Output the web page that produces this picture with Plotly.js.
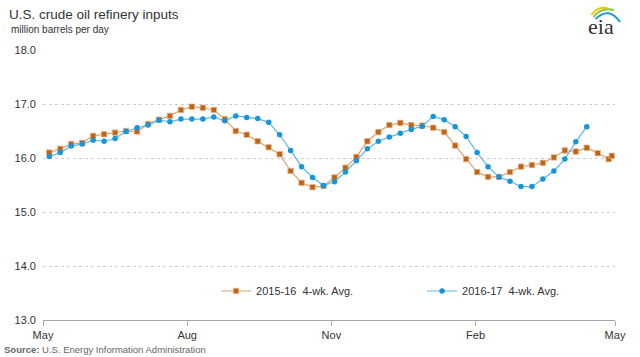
<!DOCTYPE html>
<html>
<head>
<meta charset="utf-8">
<script src="https://cdn.plot.ly/plotly-3.0.1.min.js"></script>
<style>html,body{margin:0;padding:0;background:#fff;}#chart{width:640px;height:357px;}</style>
</head>
<body>
<div id="chart"></div>
<script>
const weeks = ["2016-05-05","2016-05-12","2016-05-19","2016-05-26","2016-06-02","2016-06-09","2016-06-16","2016-06-23","2016-06-30","2016-07-07","2016-07-14","2016-07-21","2016-07-28","2016-08-04","2016-08-11","2016-08-18","2016-08-25","2016-09-01","2016-09-08","2016-09-15","2016-09-22","2016-09-29","2016-10-06","2016-10-13","2016-10-20","2016-10-27","2016-11-03","2016-11-10","2016-11-17","2016-11-24","2016-12-01","2016-12-08","2016-12-15","2016-12-22","2016-12-29","2017-01-05","2017-01-12","2017-01-19","2017-01-26","2017-02-02","2017-02-09","2017-02-16","2017-02-23","2017-03-02","2017-03-09","2017-03-16","2017-03-23","2017-03-30","2017-04-06","2017-04-13","2017-04-20","2017-04-27","2017-04-29"];
const avg2015_16 = [16.10,16.17,16.26,16.28,16.41,16.44,16.47,16.50,16.49,16.63,16.71,16.78,16.89,16.95,16.93,16.89,16.72,16.50,16.43,16.31,16.20,16.07,15.76,15.54,15.46,15.48,15.64,15.82,16.02,16.31,16.48,16.61,16.65,16.61,16.60,16.56,16.48,16.23,15.98,15.74,15.65,15.65,15.74,15.84,15.87,15.91,16.01,16.14,16.12,16.19,16.09,15.98,16.04];
const avg2016_17 = [16.03,16.10,16.22,16.26,16.33,16.31,16.36,16.49,16.56,16.61,16.70,16.67,16.72,16.72,16.72,16.76,16.69,16.78,16.75,16.73,16.66,16.43,16.14,15.84,15.64,15.49,15.56,15.74,15.95,16.17,16.31,16.39,16.46,16.53,16.59,16.77,16.71,16.58,16.40,16.10,15.84,15.65,15.57,15.47,15.47,15.61,15.76,15.98,16.30,16.58];
const seriesNames = ["2015-16\u00a0 4-wk. Avg.", "2016-17\u00a0 4-wk. Avg."];
const tickDates = ["2016-05-01","2016-08-01","2016-11-01","2017-02-01","2017-05-01"];
const tickLabels = ["May","Aug","Nov","Feb","May"];
const yTicks = [13,14,15,16,17,18];
const yTickLabels = ["13.0","14.0","15.0","16.0","17.0","18.0"];

const FONT = "Liberation Sans, Arial, sans-serif";
const L = 43, R = 12, T = 50, B = 37, W = 640, H = 357;
const pw = W - L - R, ph = H - T - B;
const px = x => (x - L) / pw;
const py = y => (H - B - y) / ph;

const traces = [
  {
    x: weeks.slice(0, avg2015_16.length), y: avg2015_16, name: seriesNames[0],
    type: "scatter", mode: "lines+markers",
    line: {color: "#d9a26e", width: 1.2},
    marker: {symbol: "square", size: 5.5, color: "#bf6414", line: {color: "#e6b995", width: 0.8}}
  },
  {
    x: weeks.slice(0, avg2016_17.length), y: avg2016_17, name: seriesNames[1],
    type: "scatter", mode: "lines+markers",
    line: {color: "#5db7e8", width: 1.2},
    marker: {symbol: "circle", size: 5.5, color: "#1596d8"}
  }
];

const logoArcs = [
  {d: [[604,15],[610,6],[620,8]], c: "#f2c500"},
  {d: [[606,17],[614,7],[627,10]], c: "#8cc63e"},
  {d: [[608,19],[622,6],[633,22]], c: "#1e9ad6"}
];
const shapes = logoArcs.map(a => ({
  type: "path", xref: "paper", yref: "paper",
  path: `M${px(a.d[0][0])},${py(a.d[0][1])} Q${px(a.d[1][0])},${py(a.d[1][1])} ${px(a.d[2][0])},${py(a.d[2][1])}`,
  line: {color: a.c, width: 2}
}));

const layout = {
  width: W, height: H,
  margin: {l: L, r: R, t: T, b: B},
  paper_bgcolor: "#fff", plot_bgcolor: "#fff",
  font: {family: FONT, size: 11, color: "#333"},
  showlegend: true,
  legend: {
    orientation: "h", x: px(220), xanchor: "left", y: py(291), yanchor: "middle",
    font: {family: FONT, size: 11, color: "#333"},
    entrywidth: 161, entrywidthmode: "pixels", bgcolor: "rgba(0,0,0,0)"
  },
  xaxis: {
    type: "date", range: ["2016-05-01", "2017-05-01"],
    tickmode: "array", tickvals: tickDates, ticktext: tickLabels,
    showgrid: false, zeroline: false,
    showline: true, linecolor: "#a6a6a6", linewidth: 1,
    ticks: "outside", ticklen: 5, tickcolor: "#a6a6a6",
    tickfont: {family: FONT, size: 11, color: "#333"}
  },
  yaxis: {
    range: [13, 18], tickmode: "array", tickvals: yTicks, ticktext: yTickLabels,
    showgrid: true, gridcolor: "#cfcfcf", griddash: "dot", gridwidth: 1,
    zeroline: false, showline: false, ticks: "", ticklabelstandoff: 6,
    tickfont: {family: FONT, size: 11, color: "#333"}
  },
  shapes: shapes,
  annotations: [
    {text: "U.S. crude oil refinery inputs", xref: "paper", yref: "paper", x: px(6), y: py(14),
     xanchor: "left", yanchor: "middle", showarrow: false, font: {family: FONT, size: 13.5, color: "#333"}},
    {text: "million barrels per day", xref: "paper", yref: "paper", x: px(8), y: py(30),
     xanchor: "left", yanchor: "middle", showarrow: false, font: {family: FONT, size: 10, color: "#333"}},
    {text: "<b>Source:</b> U.S. Energy Information Administration", xref: "paper", yref: "paper", x: px(1), y: py(349),
     xanchor: "left", yanchor: "middle", showarrow: false, font: {family: FONT, size: 9.5, color: "#666"}},
    {text: "eia", xref: "paper", yref: "paper", x: px(614), y: py(27),
     xanchor: "center", yanchor: "middle", showarrow: false, font: {family: "Liberation Serif, DejaVu Serif, serif", size: 22, color: "#333"}}
  ]
};

Plotly.newPlot("chart", traces, layout, {displayModeBar: false, staticPlot: true});
</script>
</body>
</html>
